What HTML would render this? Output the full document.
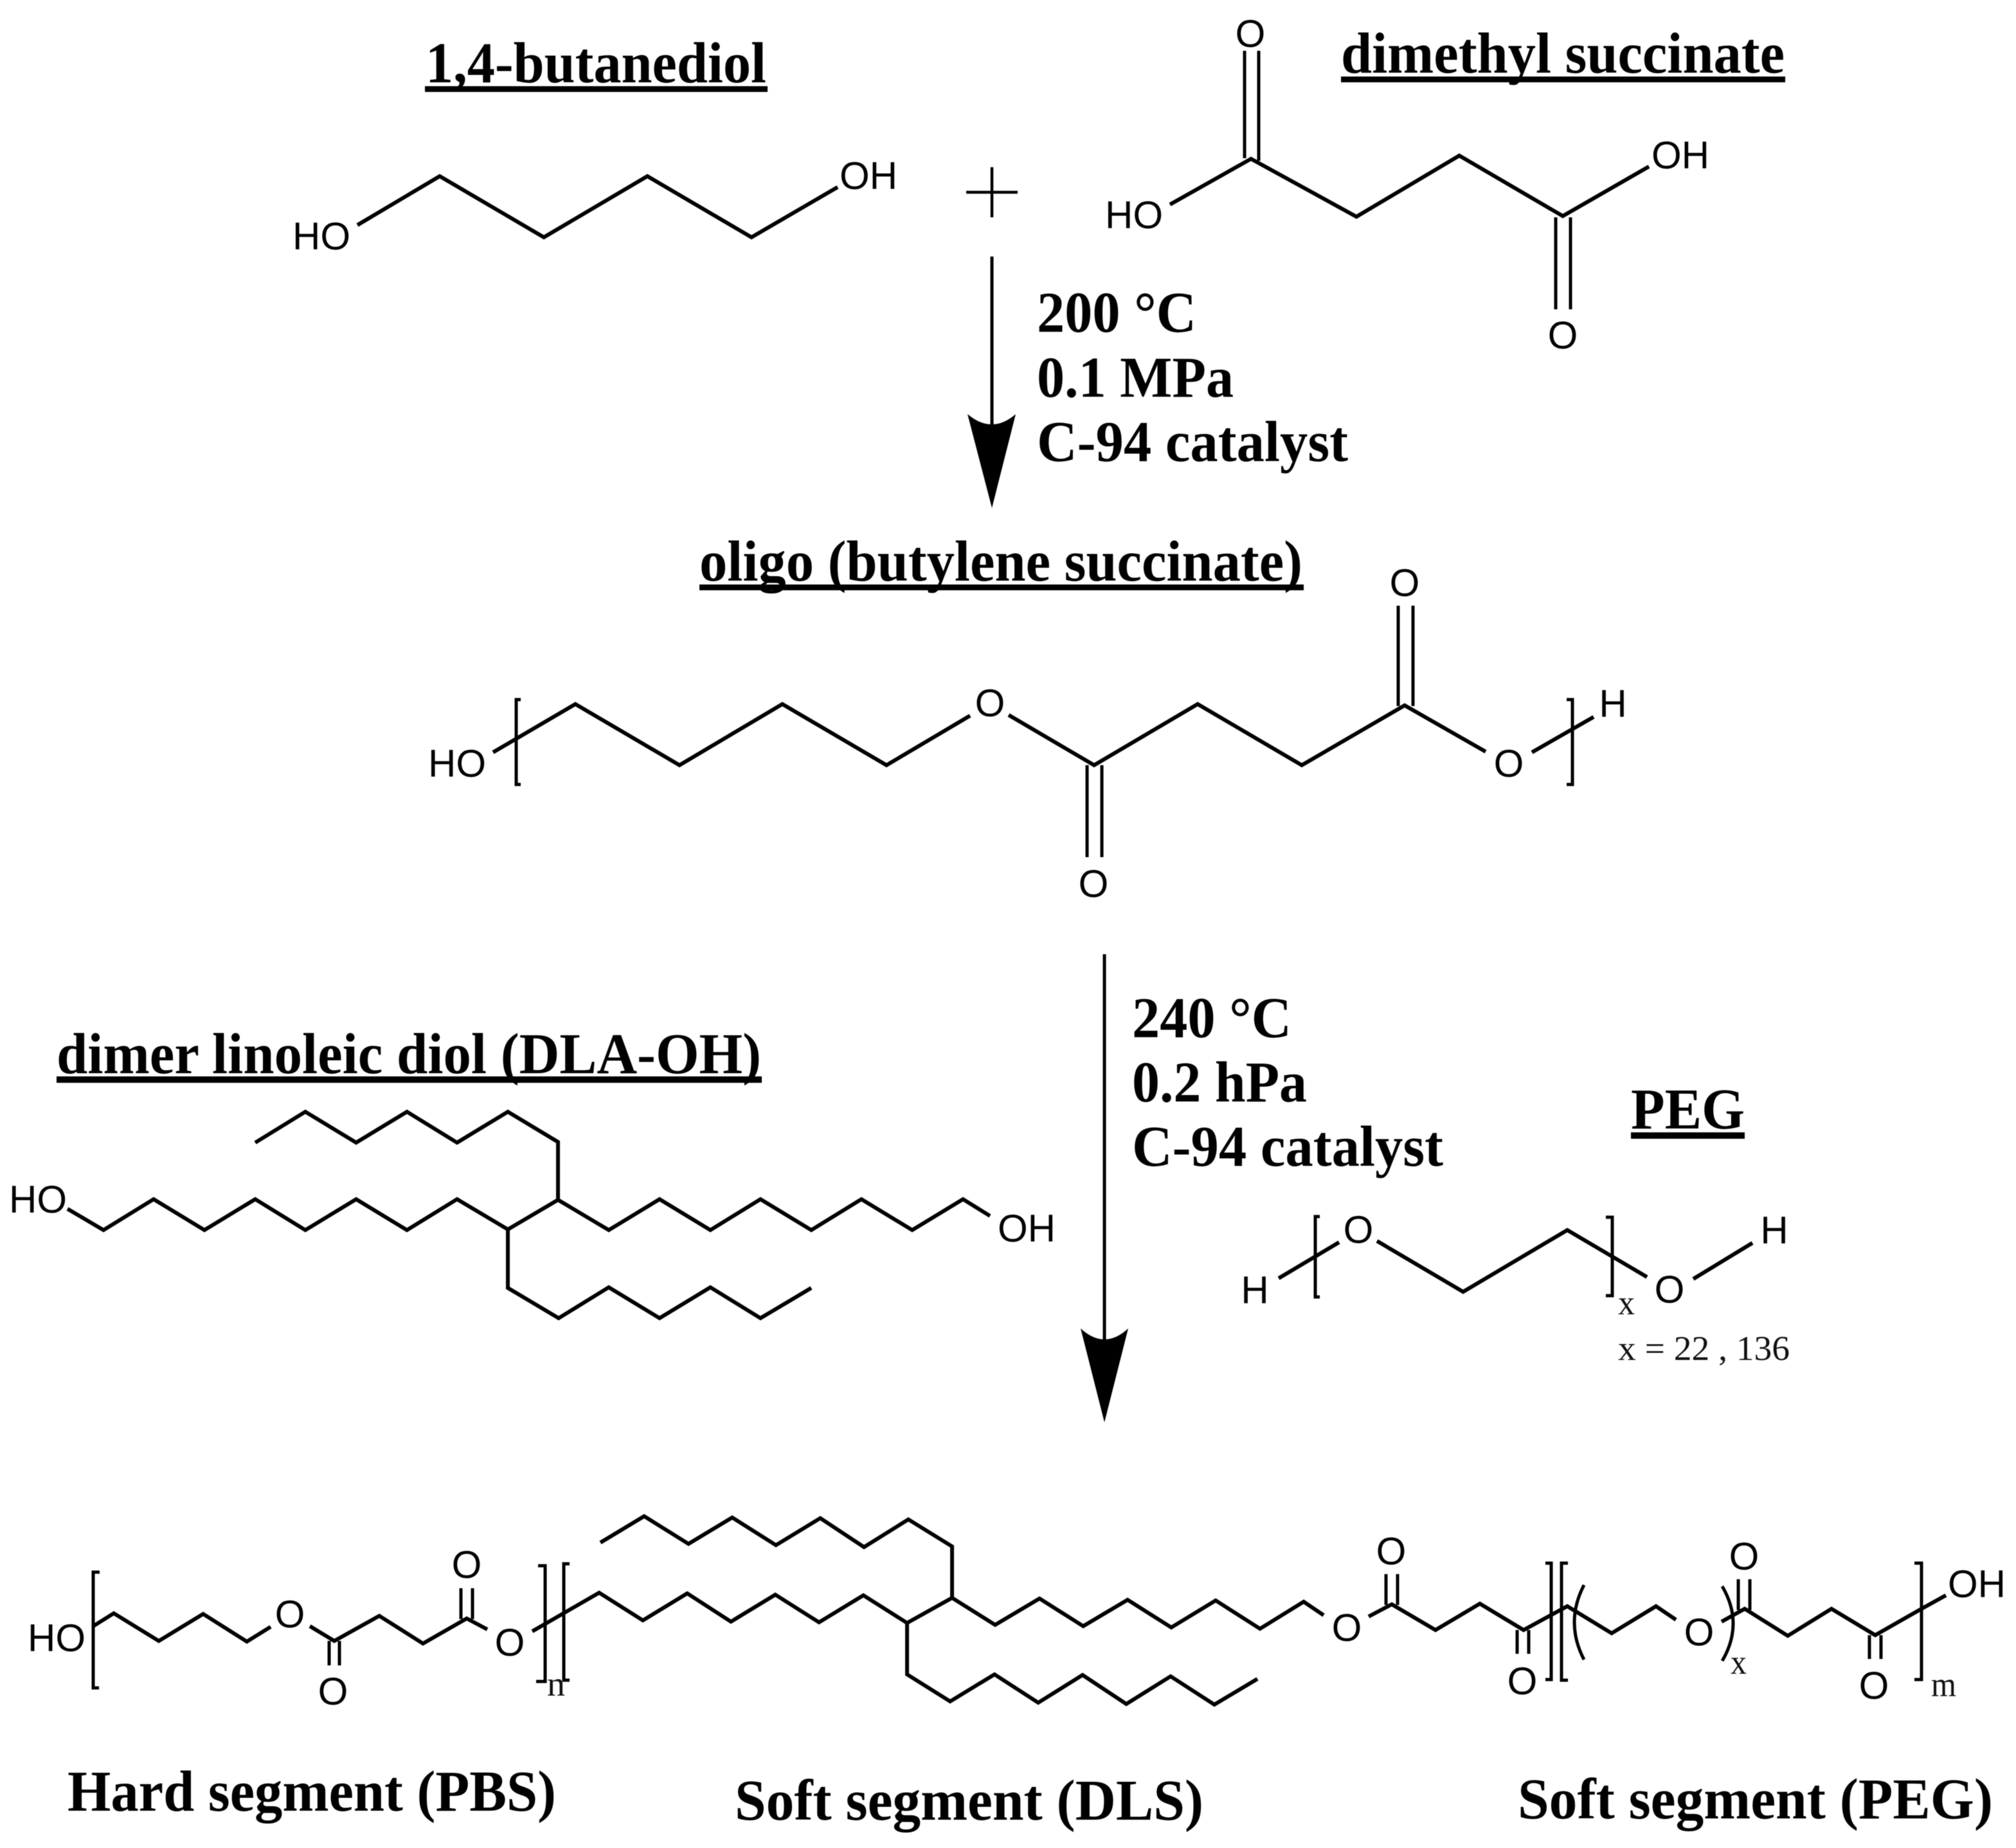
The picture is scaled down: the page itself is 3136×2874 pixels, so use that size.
<!DOCTYPE html>
<html>
<head>
<meta charset="utf-8">
<style>
html,body{margin:0;padding:0;background:#fff;width:3136px;height:2874px;overflow:hidden}
svg{display:block;filter:blur(0.6px)}
.l{fill:none;stroke:#000;stroke-width:6;stroke-linejoin:miter;stroke-miterlimit:6}
.d{fill:none;stroke:#000;stroke-width:5}
.br{fill:none;stroke:#000;stroke-width:5}
.a{font-family:"Liberation Sans",sans-serif;font-size:60px;fill:#000;text-anchor:middle}
.b{font-family:"Liberation Serif",serif;font-weight:bold;font-size:90px;fill:#000}
.s{font-family:"Liberation Serif",serif;font-size:54px;fill:#111}
</style>
</head>
<body>
<svg width="3136" height="2874" viewBox="0 0 3136 2874" xmlns="http://www.w3.org/2000/svg">
<rect width="3136" height="2874" fill="#fff"/>

<!-- Titles -->
<text class="b" x="662" y="128" textLength="530" lengthAdjust="spacingAndGlyphs">1,4-butanediol</text>
<rect x="661" y="134" width="533" height="9"/>
<text class="b" x="2086" y="113" textLength="690" lengthAdjust="spacingAndGlyphs">dimethyl succinate</text>
<rect x="2086" y="119" width="691" height="9"/>
<text class="b" x="1088" y="903" textLength="938" lengthAdjust="spacingAndGlyphs">oligo (butylene succinate)</text>
<rect x="1088" y="909" width="940" height="9"/>
<text class="b" x="88" y="1669" textLength="1096" lengthAdjust="spacingAndGlyphs">dimer linoleic diol (DLA-OH)</text>
<rect x="88" y="1674" width="1097" height="10"/>
<text class="b" x="2537" y="1755" textLength="177" lengthAdjust="spacingAndGlyphs">PEG</text>
<rect x="2537" y="1761" width="177" height="10"/>

<!-- Conditions -->
<text class="b" x="1613" y="516" textLength="248" lengthAdjust="spacingAndGlyphs">200 °C</text>
<text class="b" x="1613" y="617" textLength="306" lengthAdjust="spacingAndGlyphs">0.1 MPa</text>
<text class="b" x="1613" y="717" textLength="484" lengthAdjust="spacingAndGlyphs">C-94 catalyst</text>
<text class="b" x="1761" y="1613" textLength="248" lengthAdjust="spacingAndGlyphs">240 °C</text>
<text class="b" x="1761" y="1713" textLength="272" lengthAdjust="spacingAndGlyphs">0.2 hPa</text>
<text class="b" x="1761" y="1813" textLength="484" lengthAdjust="spacingAndGlyphs">C-94 catalyst</text>

<!-- Segment labels -->
<text class="b" x="105" y="2816" textLength="760" lengthAdjust="spacingAndGlyphs">Hard segment (PBS)</text>
<text class="b" x="1143" y="2830" textLength="729" lengthAdjust="spacingAndGlyphs">Soft segment (DLS)</text>
<text class="b" x="2361" y="2828" textLength="739" lengthAdjust="spacingAndGlyphs">Soft segment (PEG)</text>

<!-- Plus -->
<path d="M1543 260V338M1503 299H1583" fill="none" stroke="#000" stroke-width="4.5"/>

<!-- Arrows -->
<path d="M1543 399V670" fill="none" stroke="#000" stroke-width="5"/>
<path d="M1505 644Q1543 676 1580 644L1543 790Z"/>
<path d="M1718 1484V2090" fill="none" stroke="#000" stroke-width="5"/>
<path d="M1681 2066Q1718 2100 1755 2066L1718 2212Z"/>

<!-- 1,4-butanediol -->
<polyline class="l" points="556,350 684,274 846,369 1007,274 1169,369 1303,291"/>
<text class="a" x="500" y="388">HO</text>
<text class="a" x="1351" y="294">OH</text>

<!-- Succinic -->
<polyline class="l" points="1820,318 1946,247 2110,337 2270,242 2431,336 2565,259"/>
<path class="d" d="M1936 79V246M1958 79V250M2420 338V481M2443 338V481"/>
<text class="a" x="1945" y="73">O</text>
<text class="a" x="1764" y="355">HO</text>
<text class="a" x="2614" y="262">OH</text>
<text class="a" x="2431" y="542">O</text>

<!-- Oligo -->
<polyline class="l" points="767,1170 895,1095 1057,1190 1217,1095 1379,1190 1509,1113"/>
<polyline class="l" points="1569,1112 1702,1190 1863,1095 2025,1190 2185,1097 2311,1169"/>
<polyline class="l" points="2383,1170 2479,1115"/>
<path class="d" d="M2175 942V1098M2198 942V1098M1691 1190V1333M1714 1190V1333"/>
<path class="br" d="M810 1088H803V1220H810M2437 1088H2446V1220H2437"/>
<text class="a" x="711" y="1208">HO</text>
<text class="a" x="1540" y="1114">O</text>
<text class="a" x="2185" y="927">O</text>
<text class="a" x="1701" y="1395">O</text>
<text class="a" x="2347" y="1208">O</text>
<text class="a" x="2509" y="1115">H</text>

<!-- DLA-OH -->
<polyline class="l" points="105,1880 161,1913 239,1865 318,1913 397,1865 475,1913 554,1865 633,1913 711,1865 790,1912 868,1866 947,1913 1026,1865 1105,1913 1183,1865 1262,1913 1340,1865 1419,1913 1498,1865 1540,1891"/>
<polyline class="l" points="868,1866 868,1776 790,1729 711,1777 633,1729 554,1777 475,1729 397,1777"/>
<polyline class="l" points="790,1912 790,2003 869,2050 947,2002 1026,2050 1105,2002 1183,2050 1262,2003"/>
<text class="a" x="59" y="1886">HO</text>
<text class="a" x="1597" y="1931">OH</text>

<!-- PEG -->
<polyline class="l" points="1989,1988 2083,1932"/>
<polyline class="l" points="2142,1930 2276,2009 2438,1913 2562,1986"/>
<polyline class="l" points="2634,1989 2726,1933"/>
<path class="br" d="M2053 1892H2046V2017H2053M2498 1893H2508V2015H2498"/>
<text class="a" x="1952" y="2027">H</text>
<text class="a" x="2113" y="1933">O</text>
<text class="a" x="2597" y="2026">O</text>
<text class="a" x="2760" y="1934">H</text>
<text class="s" x="2517" y="2044" textLength="26" lengthAdjust="spacingAndGlyphs">x</text>
<text class="s" x="2517" y="2115" textLength="267" lengthAdjust="spacingAndGlyphs">x = 22 , 136</text>

<!-- Product: hard segment -->
<polyline class="l" points="145,2529 177,2509 247,2552 316,2510 384,2553 421,2530"/>
<polyline class="l" points="482,2529 520,2552 590,2513 658,2556 726,2517 758,2534"/>
<path class="d" d="M717 2470V2518M735 2470V2518M512 2552V2590M528 2552V2590"/>
<path class="br" d="M155 2445H145V2625H154M837 2435H848V2615H834M886 2432H877V2613H886"/>
<text class="a" x="88" y="2568">HO</text>
<text class="a" x="451" y="2531">O</text>
<text class="a" x="793" y="2575">O</text>
<text class="a" x="726" y="2454">O</text>
<text class="a" x="518" y="2651">O</text>
<text class="s" x="851" y="2637" textLength="28" lengthAdjust="spacingAndGlyphs">n</text>

<!-- Product: DLS -->
<polyline class="l" points="828,2537 932,2477 1000,2520 1069,2478 1137,2522 1206,2480 1274,2523 1343,2481 1411,2524 1481,2485 1548,2527 1617,2486 1685,2529 1754,2488 1822,2531 1891,2489 1960,2533 2028,2491 2059,2512"/>
<polyline class="l" points="934,2399 1002,2358 1071,2401 1139,2360 1207,2403 1276,2361 1344,2406 1413,2363 1481,2405 1481,2485"/>
<polyline class="l" points="1411,2524 1411,2604 1478,2646 1547,2604 1615,2648 1684,2605 1752,2650 1821,2607 1889,2651 1956,2611"/>

<!-- Product: ester linker -->
<polyline class="l" points="2129,2514 2165,2495 2233,2535 2302,2494 2370,2535 2438,2498 2507,2540 2576,2498 2607,2519"/>
<path class="d" d="M2156 2448V2496M2174 2448V2496M2360 2535V2572M2378 2535V2572"/>
<path class="br" d="M2404 2431H2413V2612H2404M2439 2431H2429V2613H2439"/>
<text class="a" x="2095" y="2552">O</text>
<text class="a" x="2164" y="2433">O</text>
<text class="a" x="2368" y="2635">O</text>

<!-- Product: PEG segment -->
<polyline class="l" points="2678,2522 2714,2502 2781,2544 2849,2502 2917,2543 2989,2502 3027,2481"/>
<path class="d" d="M2704 2456V2504M2722 2456V2504M2908 2543V2580M2926 2543V2580"/>
<path class="br" d="M2464 2465Q2434 2523 2464 2581M2679 2467Q2713 2525 2679 2583M2978 2431H2989V2612H2978"/>
<text class="a" x="2643" y="2559">O</text>
<text class="a" x="2713" y="2441">O</text>
<text class="a" x="2915" y="2642">O</text>
<text class="a" x="3075" y="2484">OH</text>
<text class="s" x="2692" y="2603" textLength="25" lengthAdjust="spacingAndGlyphs">x</text>
<text class="s" x="3004" y="2638" textLength="39" lengthAdjust="spacingAndGlyphs">m</text>
</svg>
</body>
</html>
